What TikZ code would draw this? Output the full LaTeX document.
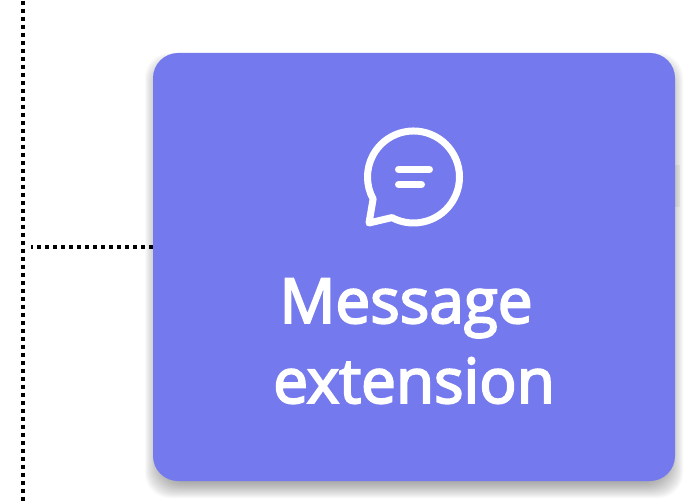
\documentclass[tikz,border=0pt]{standalone}
\usepackage{fontspec}
\setmainfont{Open Sans}[BoldFont={Open Sans},BoldFeatures={FakeBold=3.2}]
\usetikzlibrary{positioning}

\begin{document}
\begin{tikzpicture}[x=1pt, y=-1pt]
        \tikzset{
            card/.style={fill=cardblue, rounded corners=25pt, minimum width=522pt, minimum height=428pt, inner sep=0pt},
            cardtext/.style={text=white, anchor=base, inner sep=0pt, font=\fontsize{62}{80}\selectfont\bfseries},
            linkline/.style={line width=4pt, dash pattern=on 4pt off 4pt},
            iconline/.style={draw=white, line width=7pt, line cap=round, line join=round}
        }
        \definecolor{cardblue}{HTML}{7479ED}
        \useasboundingbox (0,0) rectangle (690,502);

        % Fondo
        \fill[black!4] (670,165) rectangle (680,207);

        % Sombra
        \foreach \d in {-10,-9,...,8}
            \fill[black, opacity=0.022, rounded corners=25pt] (153-\d,61-\d) rectangle (675+\d,490+\d);

        % Nodos
        \node[card] (card) at (414,267) {};
        \node[cardtext] (msgtext) at (406,323) {Message};
        \node[cardtext] (exttext) at (414,403) {extension};

        % Lineas
        \coordinate (vtop) at (23,0);
        \coordinate (vbot) at (23,502);
        \coordinate (hstart) at (31,247);
        \draw[linkline, dash phase=7.3pt] (vtop) -- (vbot);
        \draw[linkline, dash phase=2pt] (hstart) -- (hstart -| card.west);

        % Icono
        \draw[iconline] (391.9,217.6) arc[start angle=118, end angle=-208.6, radius=46] -- (369,223) -- cycle;
        \draw[iconline] (398.5,169.5) -- (429.5,169.5);
        \draw[iconline] (398.5,184.5) -- (421.5,184.5);
    \end{tikzpicture}
\end{document}
